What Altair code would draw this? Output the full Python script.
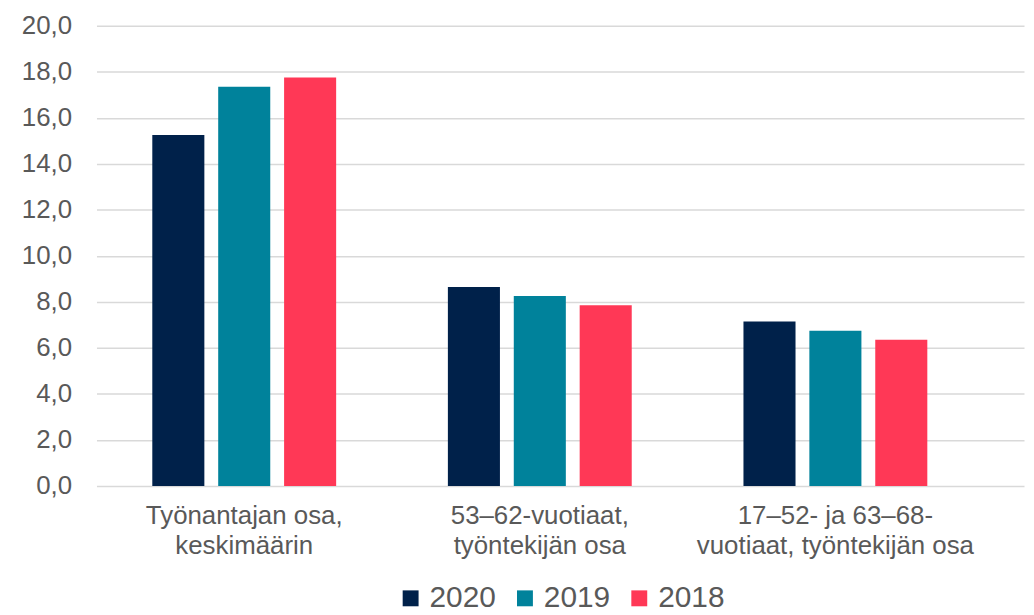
import altair as alt
import pandas as pd

categories = [
    "Työnantajan osa,|keskimäärin",
    "53–62-vuotiaat,|työntekijän osa",
    "17–52- ja 63–68-|vuotiaat, työntekijän osa",
]
years = ["2020", "2019", "2018"]
values_2020 = [15.25, 8.65, 7.15]
values_2019 = [17.35, 8.25, 6.75]
values_2018 = [17.75, 7.85, 6.35]
colors = ["#00214A", "#00829B", "#FF3856"]
y_ticks = [0, 2, 4, 6, 8, 10, 12, 14, 16, 18, 20]

rows = []
for yr, vals in zip(years, [values_2020, values_2019, values_2018]):
    for c, v in zip(categories, vals):
        rows.append({"kategoria": c, "vuosi": yr, "arvo": v})
df = pd.DataFrame(rows)

FONT = "Liberation Sans"
GRAY = "#595959"

chart = alt.Chart(df).mark_bar().encode(
    x=alt.X(
        "kategoria:N",
        sort=categories,
        scale=alt.Scale(paddingInner=0.378, paddingOuter=0.258, align=0.366),
        axis=alt.Axis(
            title=None,
            labelAngle=0,
            labelExpr="split(datum.label, '|')",
            labelFontSize=26,
            labelLineHeight=30,
            labelLimit=0,
            labelColor=GRAY,
            labelFont=FONT,
            labelPadding=17,
            ticks=False,
            domain=False,
            grid=False,
        ),
    ),
    xOffset=alt.XOffset(
        "vuosi:N",
        sort=years,
        scale=alt.Scale(paddingInner=0.21, paddingOuter=0),
    ),
    y=alt.Y(
        "arvo:Q",
        scale=alt.Scale(domain=[0, 20], nice=False),
        axis=alt.Axis(
            title=None,
            values=y_ticks,
            labelExpr="replace(format(datum.value, '.1f'), '.', ',')",
            labelFontSize=26,
            labelColor=GRAY,
            labelFont=FONT,
            labelPadding=25,
            ticks=False,
            domain=False,
            grid=True,
            gridColor="#D9D9D9",
            gridWidth=1.5,
        ),
    ),
    color=alt.Color(
        "vuosi:N",
        sort=years,
        scale=alt.Scale(domain=years, range=colors),
        legend=alt.Legend(
            title=None,
            orient="none",
            direction="horizontal",
            legendX=301,
            legendY=561,
            symbolType="square",
            symbolSize=256,
            symbolStrokeWidth=0,
            labelFontSize=30,
            labelColor=GRAY,
            labelFont=FONT,
            labelOffset=4,
            columnPadding=14,
            padding=0,
        ),
    ),
).properties(
    width=933,
    height=463,
    autosize=alt.AutoSizeParams(type="none"),
    padding={"left": 89, "top": 16, "right": 2, "bottom": 135},
).configure(
    font=FONT, background="white"
).configure_view(stroke=None)

chart.save("out.html", embed_options={"renderer": "svg", "actions": False})
